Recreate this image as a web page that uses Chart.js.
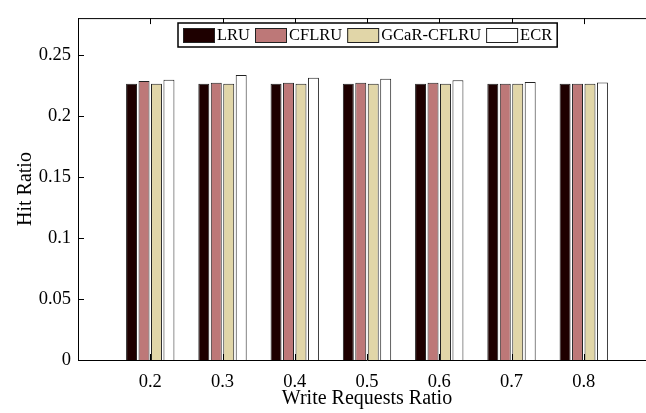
<!DOCTYPE html>
<html>
<head>
<meta charset="utf-8">
<script src="https://cdn.jsdelivr.net/npm/chart.js@4/dist/chart.umd.min.js"></script>
<style>
  html, body { margin: 0; padding: 0; background: #fff; overflow: hidden; width: 646px; height: 413px; }
  #wrap { width: 670px; height: 413px; }
</style>
</head>
<body>
<div id="wrap"><canvas id="c" width="670" height="413"></canvas></div>
<script>
// ---- data ----
const categories = ['0.2', '0.3', '0.4', '0.5', '0.6', '0.7', '0.8'];
const seriesNames = ['LRU', 'CFLRU', 'GCaR-CFLRU', 'ECR'];
const lruValues   = [0.2263, 0.2263, 0.2263, 0.2263, 0.2263, 0.2263, 0.2263];
const cflruValues = [0.2284, 0.2270, 0.2270, 0.2270, 0.2270, 0.2263, 0.2263];
const gcarValues  = [0.2263, 0.2263, 0.2263, 0.2263, 0.2263, 0.2263, 0.2263];
const ecrValues   = [0.2295, 0.2333, 0.2311, 0.2303, 0.2292, 0.2277, 0.2273];
const yTickValues = [0, 0.05, 0.1, 0.15, 0.2, 0.25];
const yMax = 0.28;

const colors = ['#1e0000', '#bd7878', '#e1d6a8', '#ffffff'];
const FONT = "'Liberation Serif', 'Times New Roman', serif";

// padded labels: empty slot at each end so categories sit at 0.2..0.8 of a 0.1..0.9 range
const labels = [''].concat(categories, ['']);
const pad = arr => [null].concat(arr, [null]);
const allSeries = [lruValues, cflruValues, gcarValues, ecrValues];

const datasets = allSeries.map((vals, i) => ({
  label: seriesNames[i],
  data: pad(vals),
  backgroundColor: colors[i],
  borderColor: '#222',
  borderWidth: 1,
  borderSkipped: 'bottom',
  categoryPercentage: 0.69,
  barPercentage: 0.88
}));

const frame = {
  id: 'frame',
  afterDraw(chart) {
    const ctx = chart.ctx;
    const a = chart.chartArea;
    const x = chart.scales.x, y = chart.scales.y;
    ctx.save();
    ctx.strokeStyle = '#000';
    ctx.lineWidth = 1;
    // top and right border
    ctx.beginPath();
    ctx.moveTo(a.left, a.top + 0.5);
    ctx.lineTo(a.right, a.top + 0.5);
    ctx.moveTo(a.right - 0.5, a.top);
    ctx.lineTo(a.right - 0.5, a.bottom);
    ctx.stroke();
    // inward ticks
    const tl = 6;
    ctx.beginPath();
    for (let i = 1; i <= categories.length; i++) {
      const px = Math.round(x.getPixelForValue(i)) + 0.5;
      ctx.moveTo(px, a.bottom);
      ctx.lineTo(px, a.bottom - tl);
      ctx.moveTo(px, a.top);
      ctx.lineTo(px, a.top + tl);
    }
    yTickValues.forEach(v => {
      const py = Math.round(y.getPixelForValue(v)) + 0.5;
      ctx.moveTo(a.left, py);
      ctx.lineTo(a.left + tl, py);
      ctx.moveTo(a.right, py);
      ctx.lineTo(a.right - tl, py);
    });
    ctx.stroke();

    // legend box
    ctx.font = '16.5px ' + FONT;
    const boxL = 178, boxT = 23, boxB = 47;
    const swW = 31, swH = 14, swT = 28;
    let cx = 183;
    const items = chart.data.datasets.map(d => ({ label: d.label, color: d.backgroundColor }));
    const pos = [];
    items.forEach(it => {
      const w = ctx.measureText(it.label).width;
      pos.push({ x: cx, w: w, it: it });
      cx += 34 + w + 5;
    });
    const boxR = cx;
    ctx.fillStyle = '#fff';
    ctx.fillRect(boxL, boxT, boxR - boxL, boxB - boxT);
    ctx.lineWidth = 1.5;
    ctx.strokeStyle = '#000';
    ctx.strokeRect(boxL, boxT, boxR - boxL, boxB - boxT);
    ctx.lineWidth = 1;
    ctx.textBaseline = 'middle';
    ctx.textAlign = 'left';
    pos.forEach(p => {
      ctx.fillStyle = p.it.color;
      ctx.fillRect(p.x, swT, swW, swH);
      ctx.strokeStyle = '#222';
      ctx.strokeRect(p.x + 0.5, swT + 0.5, swW, swH);
      ctx.fillStyle = '#000';
      ctx.fillText(p.it.label, p.x + 34, (boxT + boxB) / 2 + 1);
    });
    ctx.restore();
  }
};

new Chart(document.getElementById('c'), {
  type: 'bar',
  data: { labels: labels, datasets: datasets },
  options: {
    responsive: false,
    animation: false,
    devicePixelRatio: 1,
    layout: { padding: { left: 0, top: 13, right: 14, bottom: 0 } },
    plugins: { legend: { display: false }, tooltip: { enabled: false } },
    scales: {
      x: {
        offset: false,
        grid: { display: false, drawTicks: false },
        border: { display: true, color: '#000', width: 1 },
        ticks: {
          color: '#000', font: { family: FONT, size: 18.5 }, padding: 11,
          autoSkip: false, maxRotation: 0
        },
        title: {
          display: true, text: 'Write Requests Ratio', color: '#000',
          font: { family: FONT, size: 20 }, padding: { top: 0, bottom: 2 }
        },
        afterFit(s) { s.height = 53; }
      },
      y: {
        min: 0, max: yMax,
        grid: { display: false, drawTicks: false },
        border: { display: true, color: '#000', width: 1 },
        afterBuildTicks(s) { s.ticks = yTickValues.map(v => ({ value: v })); },
        ticks: {
          color: '#000', font: { family: FONT, size: 18.5 }, padding: 7,
          callback: v => String(+Number(v).toFixed(2))
        },
        title: {
          display: true, text: 'Hit Ratio', color: '#000',
          font: { family: FONT, size: 20 }, padding: { top: 14, bottom: 0 }
        },
        afterFit(s) { s.width = 78; }
      }
    }
  },
  plugins: [frame]
});
</script>
</body>
</html>
